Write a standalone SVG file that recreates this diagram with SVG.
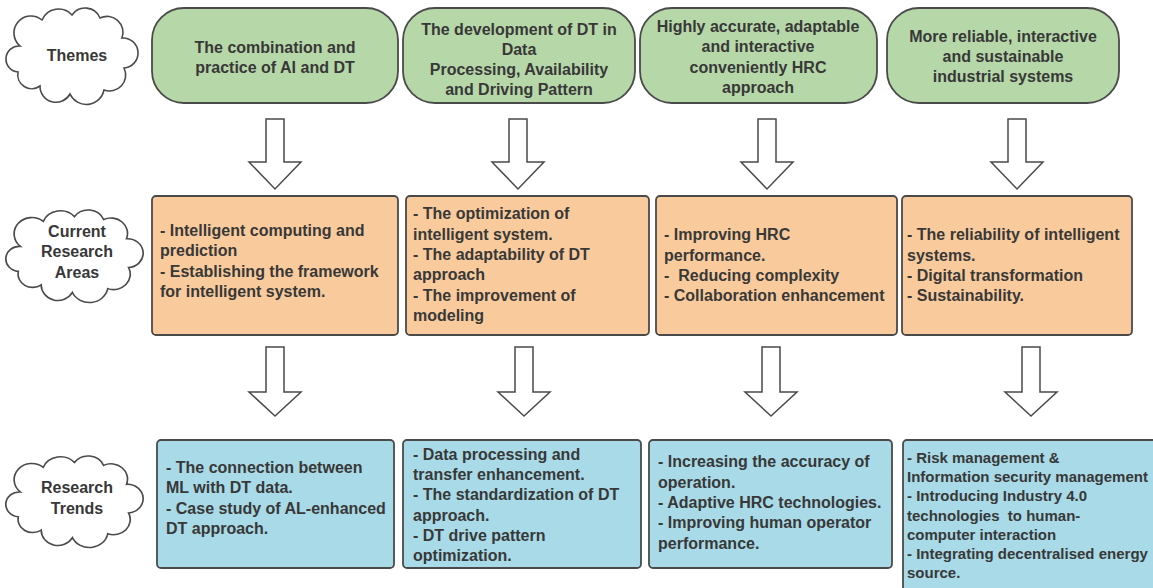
<svg xmlns="http://www.w3.org/2000/svg" width="1153" height="588" viewBox="0 0 1153 588">
<style>
  text { font-family: "Liberation Sans", Arial, sans-serif; font-weight: bold; font-size: 16px; fill: #383838; }
  .c { text-anchor: middle; }
  .sm { font-size: 15px; }
  .cloud { fill: #ffffff; stroke: #4a4a4a; stroke-width: 1.6; }
  .theme { fill: #b6d7a8; stroke: #4a4a4a; stroke-width: 1.8; }
  .area { fill: #f9cb9c; stroke: #4a4a4a; stroke-width: 1.8; }
  .trend { fill: #a8dae7; stroke: #4a4a4a; stroke-width: 1.8; }
  .arrow { fill: #ffffff; stroke: #4a4a4a; stroke-width: 1.5; stroke-linejoin: miter; }
</style>
<defs>
  <path id="cloudShape" d="M 10,40 A 16,16 0 0 1 32,14 A 18,18 0 0 1 62,9 A 16,16 0 0 1 90,12 A 16,16 0 0 1 112,32 A 14,14 0 0 1 114,62 A 16,16 0 0 1 94,84 A 18,18 0 0 1 60,88 A 16,16 0 0 1 30,80 A 14,14 0 0 1 8,66 A 13,13 0 0 1 10,40 Z"/>
  <polygon id="arrowTop" points="-9,0 9,0 9,43 26,43 0,70 -26,43 -9,43"/>
  <polygon id="arrowBot" points="-9,0 9,0 9,45 26,45 0,69 -26,45 -9,45"/>
</defs>

<!-- Row labels (clouds) -->
<g id="label-themes">
  <use href="#cloudShape" class="cloud" transform="translate(10,6) scale(1.0,1.0)"/>
  <text class="c" x="77" y="61">Themes</text>
</g>
<g id="label-areas">
  <use href="#cloudShape" class="cloud" transform="translate(10,208) scale(1.04,0.96)"/>
  <text class="c" x="77" y="237">Current</text>
  <text class="c" x="77" y="257">Research</text>
  <text class="c" x="77" y="278">Areas</text>
</g>
<g id="label-trends">
  <use href="#cloudShape" class="cloud" transform="translate(10,454) scale(1.04,0.95)"/>
  <text class="c" x="77" y="493">Research</text>
  <text class="c" x="77" y="514">Trends</text>
</g>

<!-- Themes -->
<g id="theme-1">
  <rect class="theme" x="152" y="8" width="246" height="95" rx="32" ry="32"/>
  <text class="c" x="275" y="53">The combination and</text>
  <text class="c" x="275" y="73">practice of AI and DT</text>
</g>
<g id="theme-2">
  <rect class="theme" x="403" y="8" width="232" height="95" rx="32" ry="32"/>
  <text class="c" x="519" y="35">The development of DT in</text>
  <text class="c" x="519" y="55">Data</text>
  <text class="c" x="519" y="75">Processing, Availability</text>
  <text class="c" x="519" y="95">and Driving Pattern</text>
</g>
<g id="theme-3">
  <rect class="theme" x="640" y="8" width="237" height="95" rx="32" ry="32"/>
  <text class="c" x="758" y="32">Highly accurate, adaptable</text>
  <text class="c" x="758" y="52">and interactive</text>
  <text class="c" x="758" y="73">conveniently HRC</text>
  <text class="c" x="758" y="93">approach</text>
</g>
<g id="theme-4">
  <rect class="theme" x="887" y="8" width="232" height="95" rx="32" ry="32"/>
  <text class="c" x="1003" y="42">More reliable, interactive</text>
  <text class="c" x="1003" y="62">and sustainable</text>
  <text class="c" x="1003" y="82">industrial systems</text>
</g>

<!-- Current research areas -->
<g id="area-1">
  <rect class="area" x="152" y="196" width="246" height="139" rx="4" ry="4"/>
  <text x="160" y="236">- Intelligent computing and</text>
  <text x="160" y="256">prediction</text>
  <text x="160" y="277">- Establishing the framework</text>
  <text x="160" y="297">for intelligent system.</text>
</g>
<g id="area-2">
  <rect class="area" x="406" y="196" width="243" height="139" rx="4" ry="4"/>
  <text x="413" y="219">- The optimization of</text>
  <text x="413" y="239.5">intelligent system.</text>
  <text x="413" y="260">- The adaptability of DT</text>
  <text x="413" y="280">approach</text>
  <text x="413" y="300.5">- The improvement of</text>
  <text x="413" y="321">modeling</text>
</g>
<g id="area-3">
  <rect class="area" x="656" y="196" width="241" height="139" rx="4" ry="4"/>
  <text x="664" y="240">- Improving HRC</text>
  <text x="664" y="260.5">performance.</text>
  <text x="664" y="281" xml:space="preserve">-  Reducing complexity</text>
  <text x="664" y="301">- Collaboration enhancement</text>
</g>
<g id="area-4">
  <rect class="area" x="902" y="196" width="230" height="139" rx="4" ry="4"/>
  <text x="907" y="240">- The reliability of intelligent</text>
  <text x="907" y="260.5">systems.</text>
  <text x="907" y="281">- Digital transformation</text>
  <text x="907" y="301">- Sustainability.</text>
</g>

<!-- Research trends -->
<g id="trend-1">
  <rect class="trend" x="157" y="440" width="237" height="128" rx="4" ry="4"/>
  <text x="166" y="473">- The connection between</text>
  <text x="166" y="493.3">ML with DT data.</text>
  <text x="166" y="513.6">- Case study of AL-enhanced</text>
  <text x="166" y="534">DT approach.</text>
</g>
<g id="trend-2">
  <rect class="trend" x="403" y="440" width="238" height="128" rx="4" ry="4"/>
  <text x="413" y="460">- Data processing and</text>
  <text x="413" y="480.2">transfer enhancement.</text>
  <text x="413" y="500.4">- The standardization of DT</text>
  <text x="413" y="520.6">approach.</text>
  <text x="413" y="540.8">- DT drive pattern</text>
  <text x="413" y="561">optimization.</text>
</g>
<g id="trend-3">
  <rect class="trend" x="649" y="440" width="243" height="128" rx="4" ry="4"/>
  <text x="658" y="467">- Increasing the accuracy of</text>
  <text x="658" y="487.5">operation.</text>
  <text x="658" y="508">- Adaptive HRC technologies.</text>
  <text x="658" y="528">- Improving human operator</text>
  <text x="658" y="548.5">performance.</text>
</g>
<g id="trend-4">
  <rect class="trend" x="903" y="440" width="262" height="160" rx="4" ry="4"/>
  <text class="sm" x="907" y="463">- Risk management &amp;</text>
  <text class="sm" x="907" y="482">Information security management</text>
  <text class="sm" x="907" y="501">- Introducing Industry 4.0</text>
  <text class="sm" x="907" y="520.5" xml:space="preserve">technologies  to human-</text>
  <text class="sm" x="907" y="539.8">computer interaction</text>
  <text class="sm" x="907" y="559">- Integrating decentralised energy</text>
  <text class="sm" x="907" y="578">source.</text>
</g>

<!-- Connectors (block arrows) -->
<g id="connectors">
  <use href="#arrowTop" class="arrow" transform="translate(275,119)"/>
  <use href="#arrowTop" class="arrow" transform="translate(518,119)"/>
  <use href="#arrowTop" class="arrow" transform="translate(767,119)"/>
  <use href="#arrowTop" class="arrow" transform="translate(1017,119)"/>
  <use href="#arrowBot" class="arrow" transform="translate(275,347)"/>
  <use href="#arrowBot" class="arrow" transform="translate(524,347)"/>
  <use href="#arrowBot" class="arrow" transform="translate(771,347)"/>
  <use href="#arrowBot" class="arrow" transform="translate(1031,347)"/>
</g>
</svg>
